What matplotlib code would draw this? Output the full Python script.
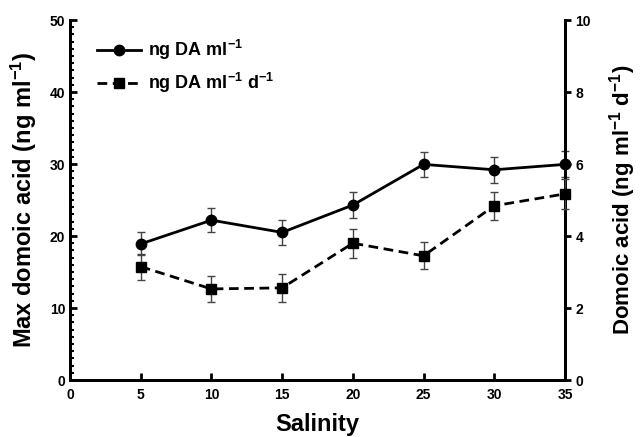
import numpy as np
import matplotlib.pyplot as plt
from matplotlib.ticker import MultipleLocator

plt.rcParams['font.family'] = ['Liberation Sans', 'DejaVu Sans']
plt.rcParams['font.weight'] = 'bold'
plt.rcParams['mathtext.fontset'] = 'custom'
plt.rcParams['mathtext.rm'] = 'Liberation Sans:bold'
plt.rcParams['mathtext.bf'] = 'Liberation Sans:bold'
plt.rcParams['mathtext.default'] = 'bf'

salinity = [5, 10, 15, 20, 25, 30, 35]
max_da = [18.9, 22.2, 20.5, 24.3, 29.95, 29.2, 29.95]
max_da_err = [1.6, 1.7, 1.75, 1.8, 1.75, 1.8, 1.8]
da_rate = [3.15, 2.53, 2.56, 3.8, 3.45, 4.84, 5.17]
da_rate_err = [0.36, 0.37, 0.38, 0.4, 0.38, 0.39, 0.42]

fig = plt.figure(figsize=(6.44, 4.37), dpi=100)
ax = fig.add_axes([0.1087, 0.1304, 0.7686, 0.8238])
ax2 = ax.twinx()

l1 = ax.errorbar(salinity, max_da, yerr=max_da_err, color='black', lw=2,
                 marker='o', ms=7.5, ecolor='#444444', elinewidth=1, capsize=3,
                 capthick=1, clip_on=False, zorder=5)
l2 = ax2.errorbar(salinity, da_rate, yerr=da_rate_err, color='black', lw=2,
                  ls=(0, (3.5, 2)), marker='s', ms=7.5, ecolor='#444444', elinewidth=1,
                  capsize=3, capthick=1, clip_on=False, zorder=5)

ax.set_xlim(0, 35)
ax.set_ylim(0, 50)
ax2.set_ylim(0, 10)
ax.set_xticks(range(0, 36, 5))
ax.set_yticks(range(0, 51, 10))
ax.yaxis.set_minor_locator(MultipleLocator(1))
ax2.set_yticks(range(0, 11, 2))

for a in (ax, ax2):
    for s in a.spines.values():
        s.set_linewidth(2)
    a.spines['top'].set_visible(False)

ax.tick_params(axis='x', direction='in', length=5, width=2, labelsize=10, pad=6)
ax.tick_params(axis='y', which='major', direction='in', length=5, width=2, labelsize=10)
ax.tick_params(axis='y', which='minor', direction='in', length=3, width=1.5)
ax2.tick_params(axis='y', direction='out', length=4, width=2, labelsize=10)

ax.set_xlabel('Salinity', fontsize=17, fontweight='bold', labelpad=8)
ax.set_ylabel('Max domoic acid (ng ml$^{-1}$)', fontsize=17, fontweight='bold', labelpad=8)
ax2.set_ylabel('Domoic acid (ng ml$^{-1}$ d$^{-1}$)', fontsize=16, fontweight='bold',
               rotation=90, labelpad=12)

ax.legend([l1.lines[0], l2.lines[0]], ['ng DA ml$^{-1}$', 'ng DA ml$^{-1}$ d$^{-1}$'],
          loc='upper left', bbox_to_anchor=(0.03, 0.985), frameon=False, fontsize=13,
          handlelength=2.4, handletextpad=0.4, labelspacing=0.5, borderpad=0.2)

fig.savefig('out.png', dpi=100)
